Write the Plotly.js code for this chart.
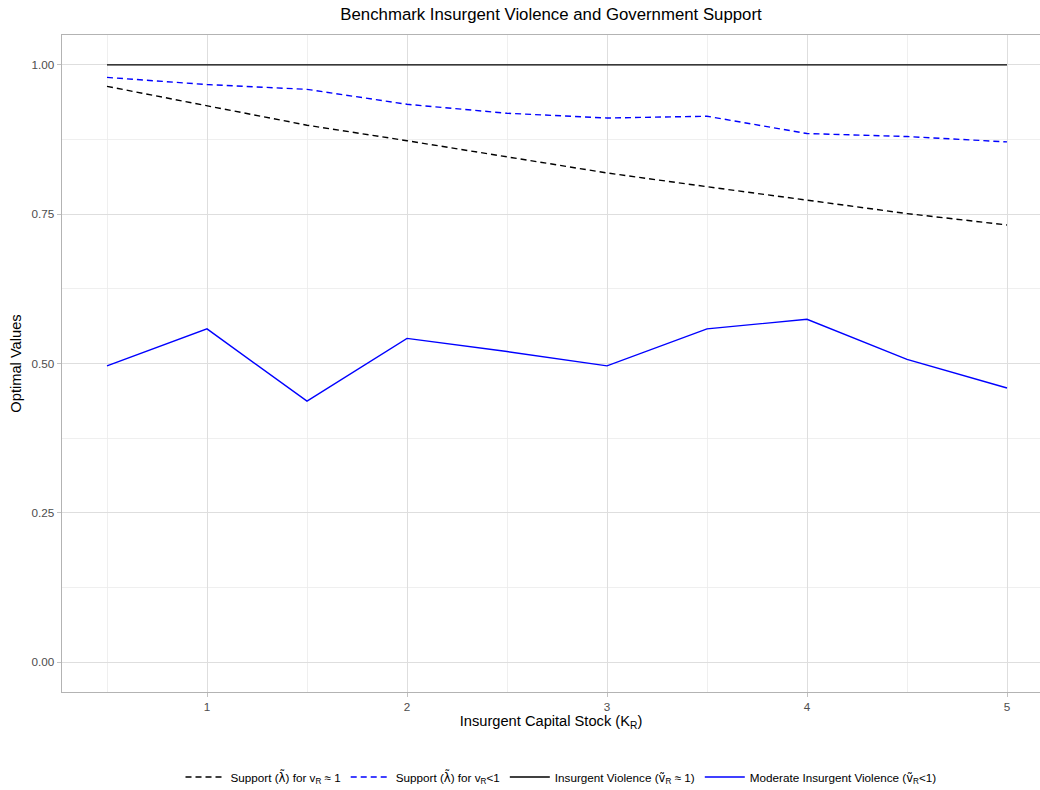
<!DOCTYPE html>
<html>
<head>
<meta charset="utf-8">
<script src="https://cdn.plot.ly/plotly-3.0.1.min.js"></script>
<style>html,body{margin:0;padding:0;background:#fff;}#chart{width:1040px;height:790px;}</style>
</head>
<body>
<div id="chart"></div>
<script>
// Data
const capitalStock = [0.5, 1.0, 1.5, 2.0, 2.5, 3.0, 3.5, 4.0, 4.5, 5.0];
const supportHigh = [0.964, 0.931, 0.899, 0.873, 0.846, 0.819, 0.796, 0.773, 0.751, 0.732];
const supportLow = [0.979, 0.967, 0.959, 0.934, 0.919, 0.911, 0.914, 0.885, 0.880, 0.871];
const violenceHigh = [1.0, 1.0, 1.0, 1.0, 1.0, 1.0, 1.0, 1.0, 1.0, 1.0];
const violenceModerate = [0.496, 0.558, 0.437, 0.542, 0.520, 0.496, 0.558, 0.574, 0.507, 0.459];
const xTicks = [1, 2, 3, 4, 5];
const yTicks = [0, 0.25, 0.5, 0.75, 1.0];
const yTickLabels = ["0.00", "0.25", "0.50", "0.75", "1.00"];
const lam = '<span style="font-family:DejaVu Sans">λ̃</span>';
const vt = '<span style="font-family:DejaVu Sans">ṽ</span>';
const seriesNames = [
  "Support (" + lam + ") for v<sub>R</sub> ≈ 1",
  "Support (" + lam + ") for v<sub>R</sub>&lt;1",
  "Insurgent Violence (" + vt + "<sub>R</sub> ≈ 1)",
  "Moderate Insurgent Violence (" + vt + "<sub>R</sub>&lt;1)"
];

const FONT = "Liberation Sans, Arial, Helvetica, sans-serif";
const dash = "6px,4px";

const traces = [
  {x: capitalStock, y: supportHigh, name: seriesNames[0], mode: "lines",
   line: {color: "#000000", width: 1.4, dash: dash}},
  {x: capitalStock, y: supportLow, name: seriesNames[1], mode: "lines",
   line: {color: "#0000ff", width: 1.4, dash: dash}},
  {x: capitalStock, y: violenceHigh, name: seriesNames[2], mode: "lines",
   line: {color: "#000000", width: 1.4}},
  {x: capitalStock, y: violenceModerate, name: seriesNames[3], mode: "lines",
   line: {color: "#0000ff", width: 1.4}}
];

const layout = {
  width: 1040, height: 790,
  margin: {l: 62, r: 0, t: 35, b: 98},
  paper_bgcolor: "#ffffff", plot_bgcolor: "#ffffff",
  font: {family: FONT, color: "#000000"},
  title: {text: "Benchmark Insurgent Violence and Government Support",
          font: {size: 16.8, color: "#000000", family: FONT},
          x: 0.5, xref: "paper", y: 1 - 14/790, yref: "container", yanchor: "middle"},
  xaxis: {
    range: [0.275, 5.165], tickvals: xTicks, ticktext: xTicks.map(String),
    showgrid: true, gridcolor: "#dedede", gridwidth: 1,
    minor: {dtick: 0.5, tick0: 0.5, showgrid: true, gridcolor: "#ebebeb", gridwidth: 0.8, ticks: ""},
    zeroline: false,
    showline: true, mirror: true, linecolor: "#b3b3b3", linewidth: 1.3,
    ticks: "outside", ticklen: 4, tickwidth: 0.8, tickcolor: "#b3b3b3",
    tickfont: {size: 11.7, color: "#4d4d4d", family: FONT},
    title: {text: "Insurgent Capital Stock (K<sub>R</sub>)", font: {size: 14.67, color: "#000000", family: FONT}, standoff: 2}
  },
  yaxis: {
    range: [-0.05, 1.05], tickvals: yTicks, ticktext: yTickLabels,
    showgrid: true, gridcolor: "#dedede", gridwidth: 1,
    minor: {dtick: 0.125, tick0: 0, showgrid: true, gridcolor: "#ebebeb", gridwidth: 0.8, ticks: ""},
    zeroline: false,
    showline: true, mirror: false, linecolor: "#b3b3b3", linewidth: 1.3,
    ticks: "outside", ticklen: 4, tickwidth: 0.8, tickcolor: "#b3b3b3",
    tickfont: {size: 11.7, color: "#4d4d4d", family: FONT},
    title: {text: "Optimal Values", font: {size: 14.67, color: "#000000", family: FONT}, standoff: 6}
  },
  showlegend: true,
  legend: {orientation: "h", xref: "container", yref: "container",
           x: 561/1040, xanchor: "center", y: 1 - 777/790, yanchor: "middle",
           itemwidth: 40,
           font: {size: 11.7, color: "#000000", family: FONT},
           bgcolor: "rgba(0,0,0,0)", traceorder: "normal"}
};

Plotly.newPlot("chart", traces, layout, {displayModeBar: false, staticPlot: true});
</script>
</body>
</html>
